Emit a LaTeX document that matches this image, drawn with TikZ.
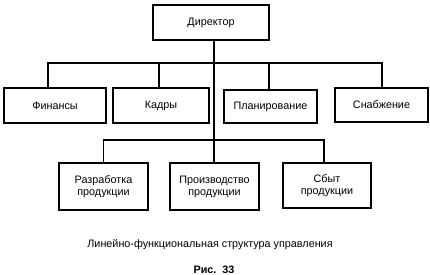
\documentclass[tikz,border=0pt]{standalone}
\usepackage{fontspec}
\setmainfont{Liberation Sans}
\begin{document}
\begin{tikzpicture}[
  x=1pt, y=-1pt,
  every node/.style={font=\fontsize{10.8}{12}\selectfont},
  unit/.style={draw, line width=1.2pt, inner sep=0pt, align=center},
  link/.style={line width=1.1pt},
]
\useasboundingbox (0,0) rectangle (430,275);

% Top level
\node[unit, minimum width=116, minimum height=35] (dir) at (211,22.5) {Директор};

% Functional departments
\node[unit, minimum width=102, minimum height=35] (fin)  at (55,105.5)   {Финансы};
\node[unit, minimum width=96,  minimum height=35] (kadr) at (161,105.5)  {Кадры};
\node[unit, minimum width=93,  minimum height=33] (plan) at (270.5,106.5) {Планирование};
\node[unit, minimum width=93,  minimum height=34] (snab) at (381.5,105)  {Снабжение};

% Line units
\node[unit, minimum width=89, minimum height=47] (razr) at (103.5,186.5) {Разработка\\продукции};
\node[unit, minimum width=89, minimum height=47] (proi) at (214.5,186.5) {Производство\\продукции};
\node[unit, minimum width=88, minimum height=45] (sbyt) at (327,185.5)   {Сбыт\\продукции};

% Buses
\coordinate (bus1) at (214,63);
\coordinate (bus2) at (214,140);

\draw[link] (bus1 |- dir.south) -- (bus2);
\draw[link] ([xshift=-7pt]fin.north) |- (bus1) -| ([xshift=0.5pt]snab.north);
\draw[link] ([xshift=-2pt]kadr.north) -- ([xshift=-2pt]kadr.north |- bus1);
\draw[link] ([xshift=-1.5pt]plan.north) -- ([xshift=-1.5pt]plan.north |- bus1);
\draw[link] (razr.north) |- (bus2) -| ([xshift=-3pt]sbyt.north);
\draw[link] (bus2) -- (proi.north -| bus2);

% Caption
\node (capt) at (210,245) {Линейно-функциональная структура управления};
\node[font=\fontsize{10.8}{12}\selectfont\bfseries] (fig) at (214,270) {Рис.~~33};
\end{tikzpicture}
\end{document}
